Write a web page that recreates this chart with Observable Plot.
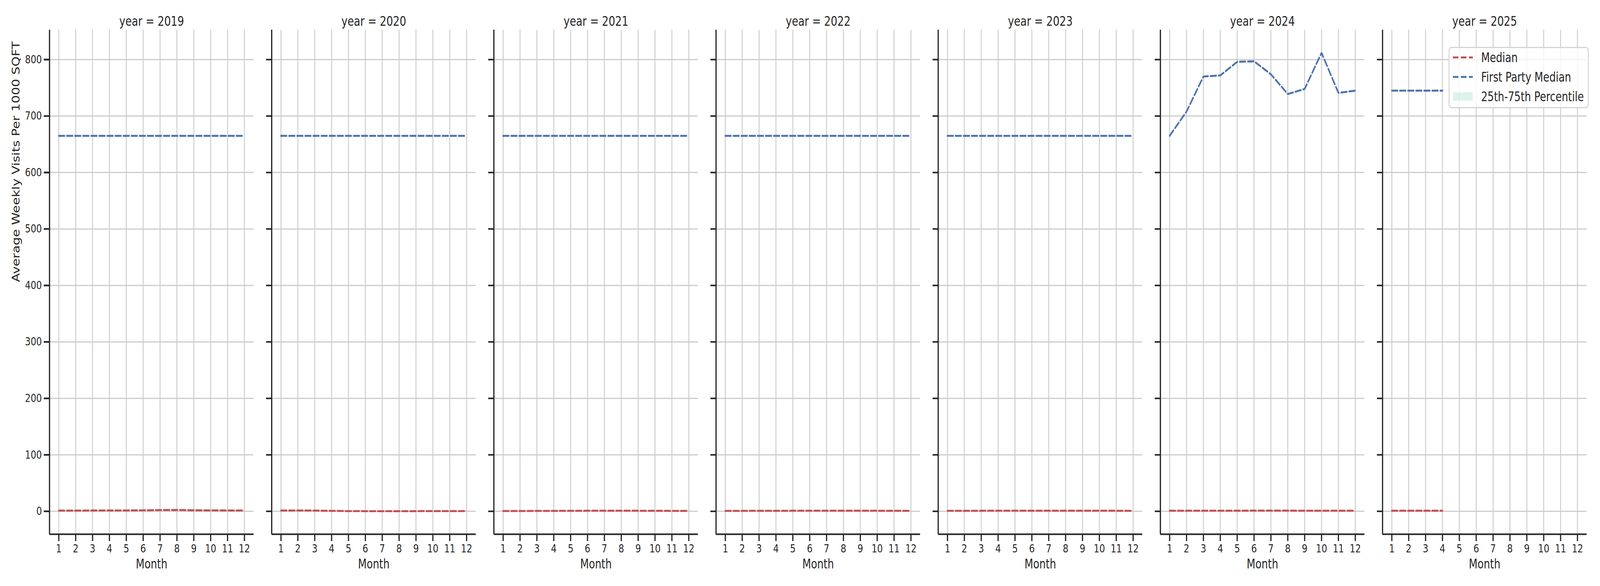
<!DOCTYPE html>
<html>
<head>
<meta charset="utf-8">
<script src="https://cdn.jsdelivr.net/npm/d3@7"></script>
<script src="https://cdn.jsdelivr.net/npm/@observablehq/plot@0.6"></script>
<style>
  html, body { margin: 0; padding: 0; background: #ffffff; overflow: hidden; }
  #wrap { position: relative; width: 5250px; height: 1500px; transform-origin: 0 0; font-family: "DejaVu Sans", sans-serif; color: #262626; }
  #chart svg { display: block; max-width: none; }
  #legend { position: absolute; left: 4753px; top: 120px; width: 454px; height: 151px;
    border: 3px solid #d4d4d4; border-radius: 9px; background: rgba(255,255,255,0.8); }
  .item { position: absolute; left: 11px; height: 40px; display: flex; align-items: center; font-size: 33px; white-space: nowrap; }
  .item svg { width: 66px; height: 30px; margin-right: 27px; flex: none; }
</style>
</head>
<body>
<div id="wrap">
  <div id="chart"></div>
  <div id="legend">
    <div class="item" style="top:4px"><svg viewBox="0 0 66 30"><line x1="0" y1="15" x2="66" y2="15" stroke="#C44E52" stroke-width="5" stroke-dasharray="18.5,8"/></svg>Median</div>
    <div class="item" style="top:54px"><svg viewBox="0 0 66 30"><line x1="0" y1="15" x2="66" y2="15" stroke="#4C72B0" stroke-width="5" stroke-dasharray="18.5,8"/></svg>First Party Median</div>
    <div class="item" style="top:104px"><svg viewBox="0 0 66 30"><rect x="0" y="4" width="66" height="22" fill="#5fbfa0" fill-opacity="0.2"/></svg>25th-75th Percentile</div>
  </div>
</div>
<script>
// ---- data ----
const years = [2019, 2020, 2021, 2022, 2023, 2024, 2025];
const months = [1, 2, 3, 4, 5, 6, 7, 8, 9, 10, 11, 12];
const yTicks = [0, 100, 200, 300, 400, 500, 600, 700, 800];

// Median (per year, by month)
const median2019 = [1.3, 1.3, 1.4, 1.4, 1.5, 1.7, 2.2, 2.3, 1.8, 1.6, 1.5, 1.4];
const median2020 = [1.5, 1.5, 1.3, 0.8, 0.4, 0.3, 0.3, 0.3, 0.3, 0.4, 0.4, 0.4];
const median2021 = [0.6, 0.6, 0.7, 0.8, 0.9, 1.0, 1.1, 1.1, 1.0, 0.9, 0.8, 0.8];
const median2022 = [0.8, 0.8, 0.9, 0.9, 1.0, 1.0, 1.1, 1.1, 1.0, 1.0, 0.9, 0.9];
const median2023 = [0.9, 0.9, 1.0, 1.0, 1.0, 1.1, 1.1, 1.1, 1.0, 1.0, 1.0, 0.9];
const median2024 = [1.0, 1.0, 1.0, 1.1, 1.1, 1.2, 1.2, 1.2, 1.1, 1.1, 1.0, 1.0];
const median2025 = [1.0, 1.0, 1.1, 1.1];

// First party median
const firstParty2019 = [665, 665, 665, 665, 665, 665, 665, 665, 665, 665, 665, 665];
const firstParty2020 = [665, 665, 665, 665, 665, 665, 665, 665, 665, 665, 665, 665];
const firstParty2021 = [665, 665, 665, 665, 665, 665, 665, 665, 665, 665, 665, 665];
const firstParty2022 = [665, 665, 665, 665, 665, 665, 665, 665, 665, 665, 665, 665];
const firstParty2023 = [665, 665, 665, 665, 665, 665, 665, 665, 665, 665, 665, 665];
const firstParty2024 = [665, 708, 770, 772, 796, 797, 774, 739, 748, 812, 741, 745];
const firstParty2025 = [745, 745, 745, 745];

// 25th / 75th percentile
const p25_2019 = [0.2, 0.2, 0.3, 0.3, 0.3, 0.4, 0.6, 0.6, 0.4, 0.3, 0.3, 0.3];
const p75_2019 = [3.0, 3.0, 3.1, 3.2, 3.3, 3.6, 4.2, 4.3, 3.7, 3.4, 3.2, 3.1];
const p25_2020 = [0.2, 0.2, 0.2, 0.1, 0.0, 0.0, 0.0, 0.0, 0.0, 0.0, 0.0, 0.0];
const p75_2020 = [3.2, 3.1, 2.8, 1.9, 1.2, 1.0, 1.0, 1.0, 1.0, 1.2, 1.2, 1.2];
const p25_2021 = [0.0, 0.0, 0.1, 0.1, 0.1, 0.2, 0.2, 0.2, 0.2, 0.1, 0.1, 0.1];
const p75_2021 = [1.6, 1.6, 1.7, 1.9, 2.0, 2.2, 2.3, 2.3, 2.2, 2.0, 1.9, 1.9];
const p25_2022 = [0.1, 0.1, 0.1, 0.1, 0.2, 0.2, 0.2, 0.2, 0.2, 0.2, 0.1, 0.1];
const p75_2022 = [1.9, 1.9, 2.0, 2.0, 2.2, 2.2, 2.3, 2.3, 2.2, 2.2, 2.0, 2.0];
const p25_2023 = [0.1, 0.1, 0.2, 0.2, 0.2, 0.2, 0.2, 0.2, 0.2, 0.2, 0.2, 0.1];
const p75_2023 = [2.0, 2.0, 2.2, 2.2, 2.2, 2.3, 2.3, 2.3, 2.2, 2.2, 2.2, 2.0];
const p25_2024 = [0.2, 0.2, 0.2, 0.2, 0.2, 0.3, 0.3, 0.3, 0.2, 0.2, 0.2, 0.2];
const p75_2024 = [2.2, 2.2, 2.2, 2.3, 2.3, 2.4, 2.4, 2.4, 2.3, 2.3, 2.2, 2.2];
const p25_2025 = [0.2, 0.2, 0.2, 0.2];
const p75_2025 = [2.2, 2.2, 2.3, 2.3];

const medianByYear = [median2019, median2020, median2021, median2022, median2023, median2024, median2025];
const firstPartyByYear = [firstParty2019, firstParty2020, firstParty2021, firstParty2022, firstParty2023, firstParty2024, firstParty2025];
const p25ByYear = [p25_2019, p25_2020, p25_2021, p25_2022, p25_2023, p25_2024, p25_2025];
const p75ByYear = [p75_2019, p75_2020, p75_2021, p75_2022, p75_2023, p75_2024, p75_2025];

const yLabel = "Average Weekly Visits Per 1000 SQFT";
const xLabel = "Month";

// ---- build table ----
const rows = [];
years.forEach((yr, i) => {
  medianByYear[i].forEach((v, j) => {
    rows.push({year: yr, month: months[j], median: v, firstParty: firstPartyByYear[i][j], p25: p25ByYear[i][j], p75: p75ByYear[i][j]});
  });
});

const xDomain = [0.45, 12.55];
const yDomain = [-40.6, 852.6];
const dark = "#262626";

const chart = Plot.plot({
  width: 5250,
  height: 1500,
  marginLeft: 162,
  marginRight: 44,
  marginTop: 76,
  marginBottom: 133,
  style: {fontFamily: "DejaVu Sans, sans-serif", fontSize: "29px", color: dark, background: "white"},
  fx: {domain: years, paddingInner: 59 / 729, paddingOuter: 0, axis: null},
  x: {domain: xDomain},
  y: {domain: yDomain},
  marks: [
    Plot.gridX({ticks: months, stroke: "#cccccc", strokeOpacity: 1, strokeWidth: 3}),
    Plot.gridY({ticks: yTicks, stroke: "#cccccc", strokeOpacity: 1, strokeWidth: 3}),
    Plot.areaY(rows, {x: "month", y1: "p25", y2: "p75", fx: "year", fill: "#5fbfa0", fillOpacity: 0.2}),
    Plot.line(rows, {x: "month", y: "median", fx: "year", stroke: "#C44E52", strokeWidth: 5, strokeDasharray: "18.5,8", strokeLinejoin: "miter"}),
    Plot.line(rows, {x: "month", y: "firstParty", fx: "year", stroke: "#4C72B0", strokeWidth: 5, strokeDasharray: "18.5,8", strokeLinejoin: "miter"}),
    Plot.ruleX([xDomain[0]], {stroke: dark, strokeWidth: 4}),
    Plot.ruleY([yDomain[0]], {stroke: dark, strokeWidth: 4}),
    Plot.axisX({ticks: months, tickSize: 18, tickPadding: 8, strokeWidth: 4, stroke: dark, fontSize: 29, label: null}),
    Plot.axisY({ticks: yTicks, tickSize: 18, strokeWidth: 4, stroke: dark, tickFormat: () => "", label: null, facetAnchor: null}),
    Plot.axisY({ticks: yTicks, tickSize: 18, tickPadding: 7, strokeWidth: 4, stroke: dark, fontSize: 29, label: null}),
    Plot.text(years, {fx: d => d, text: d => `year = ${d}`, frameAnchor: "top", lineAnchor: "middle", dy: -21, fontSize: 34, fill: dark}),
    Plot.text(years, {fx: d => d, text: () => xLabel, frameAnchor: "bottom", lineAnchor: "middle", dy: 77, fontSize: 33, fill: dark}),
    Plot.text([yLabel], {fx: () => years[0], text: d => d, frameAnchor: "left", lineAnchor: "middle", dx: -109, rotate: -90, fontSize: 33, fill: dark})
  ]
});
document.getElementById("chart").appendChild(chart);

// The browser window may be narrower than the 5250px design: fit it horizontally.
const sx = Math.min(1, window.innerWidth / 5250);
document.getElementById("wrap").style.transform = `scale(${sx}, 1)`;
</script>
</body>
</html>
